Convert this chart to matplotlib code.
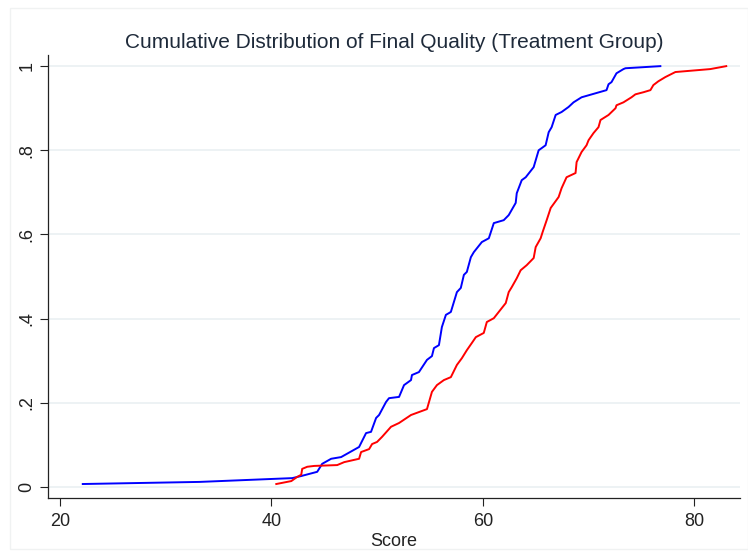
import matplotlib
matplotlib.use('Agg')
import matplotlib.pyplot as plt
from matplotlib.patches import Rectangle

plt.rcParams['font.family'] = ['Liberation Sans', 'DejaVu Sans']

blue_x = [22.17, 33.21, 41.98, 42.83, 44.34, 44.81, 45.66, 46.60, 48.30, 48.96,
          49.43, 49.91, 50.19, 50.85, 51.13, 52.08, 52.55, 53.21, 53.30, 53.96,
          54.72, 55.19, 55.38, 55.85, 56.13, 56.51, 56.79, 56.98, 57.55, 57.92,
          58.21, 58.49, 58.87, 59.15, 59.91, 60.57, 61.04, 61.98, 62.45, 63.11,
          63.21, 63.68, 64.06, 64.81, 65.28, 65.94, 66.23, 66.51, 66.89, 67.45,
          68.11, 68.58, 69.34, 71.70, 71.89, 72.17, 72.64, 73.30, 73.49, 76.79]
blue_y = [0.007, 0.012, 0.021, 0.026, 0.036, 0.055, 0.067, 0.071, 0.095, 0.128,
          0.131, 0.164, 0.171, 0.202, 0.211, 0.214, 0.242, 0.254, 0.266, 0.273,
          0.302, 0.311, 0.330, 0.337, 0.380, 0.409, 0.413, 0.416, 0.463, 0.473,
          0.504, 0.511, 0.546, 0.558, 0.582, 0.591, 0.627, 0.634, 0.646, 0.675,
          0.698, 0.729, 0.736, 0.760, 0.800, 0.812, 0.843, 0.855, 0.884, 0.891,
          0.903, 0.914, 0.926, 0.943, 0.957, 0.962, 0.983, 0.993, 0.995, 1.000]

red_x = [40.47, 41.89, 42.45, 42.83, 42.92, 43.40, 44.06, 46.23, 46.89, 48.30,
         48.49, 49.25, 49.53, 50.00, 50.47, 51.32, 52.08, 53.21, 54.72, 55.19,
         55.66, 56.32, 56.98, 57.55, 58.02, 58.49, 58.96, 59.34, 60.09, 60.38,
         61.04, 61.51, 62.17, 62.45, 62.74, 63.21, 63.58, 64.15, 64.81, 65.00,
         65.47, 65.66, 66.04, 66.42, 67.17, 67.45, 67.92, 68.77, 68.87, 69.34,
         69.81, 70.00, 70.47, 70.94, 71.13, 71.89, 72.55, 72.64, 73.30, 74.06,
         74.43, 75.19, 75.85, 76.13, 76.60, 77.26, 78.21, 81.51, 83.02]
red_y = [0.007, 0.014, 0.024, 0.029, 0.043, 0.048, 0.050, 0.052, 0.059, 0.067,
         0.083, 0.090, 0.102, 0.107, 0.119, 0.143, 0.152, 0.171, 0.185, 0.226,
         0.242, 0.254, 0.261, 0.290, 0.306, 0.325, 0.342, 0.356, 0.366, 0.392,
         0.401, 0.416, 0.437, 0.463, 0.475, 0.496, 0.515, 0.527, 0.544, 0.570,
         0.591, 0.606, 0.634, 0.663, 0.689, 0.710, 0.736, 0.746, 0.772, 0.796,
         0.812, 0.824, 0.841, 0.855, 0.872, 0.884, 0.900, 0.907, 0.914, 0.926,
         0.933, 0.938, 0.943, 0.955, 0.964, 0.974, 0.986, 0.993, 1.000]

x_ticks = [20, 40, 60, 80]
y_ticks = [0, 0.2, 0.4, 0.6, 0.8, 1.0]
y_labels = ['0', '.2', '.4', '.6', '.8', '1']

fig = plt.figure(figsize=(7.48, 5.52), dpi=100)
fig.patches.append(Rectangle((0.013, 0.005), 0.987, 0.98, transform=fig.transFigure,
                             fill=False, edgecolor='#f0f2f2', linewidth=1))
ax = fig.add_axes([0.064, 0.098, 0.925, 0.802])

ax.plot(blue_x, blue_y, color='#0000ff', lw=1.4)
ax.plot(red_x, red_y, color='#ff0000', lw=1.4)

ax.set_xlim(18.87, 84.3)
ax.set_ylim(-0.026, 1.026)
ax.set_xticks(x_ticks)
ax.set_yticks(y_ticks)
ax.set_yticklabels(y_labels, rotation=90, va='center')
ax.tick_params(axis='both', direction='out', length=6, width=0.8, labelsize=13,
               colors='#222222', pad=3)
ax.tick_params(axis='x', pad=5)
ax.grid(axis='y', color='#eaf0f2', lw=1.2)
ax.set_axisbelow(True)
for s in ['top', 'right']:
    ax.spines[s].set_visible(False)
for s in ['left', 'bottom']:
    ax.spines[s].set_color('#222222')
    ax.spines[s].set_linewidth(0.9)

ax.set_xlabel('Score', fontsize=13, color='#222222', labelpad=2)
ax.set_title('Cumulative Distribution of Final Quality (Treatment Group)',
             fontsize=15, color='#1e2a3a', pad=5)

fig.savefig('out.png', dpi=100)
